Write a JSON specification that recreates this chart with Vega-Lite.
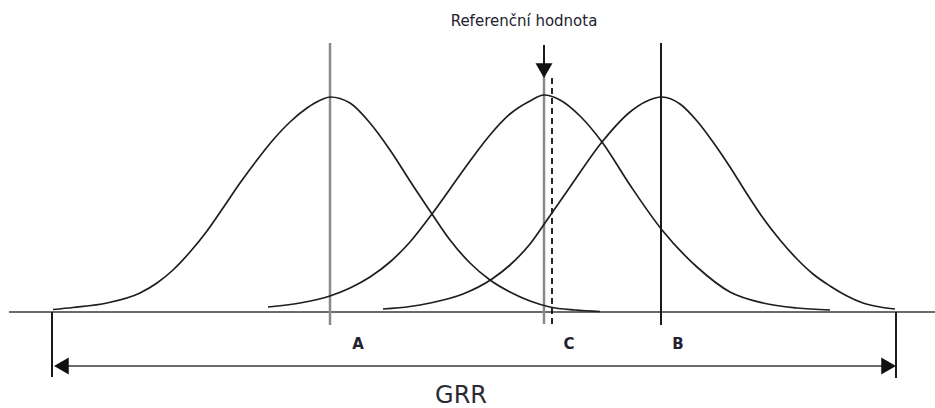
{
  "$schema": "https://vega.github.io/schema/vega-lite/v6.json",
  "width": 935,
  "height": 408,
  "autosize": {"type": "none"},
  "padding": 0,
  "background": "white",
  "config": {"view": {"stroke": null}},
  "datasets": {
    "curves": [
      {"curve": "A", "x": 53, "h": 2.5}, {"curve": "A", "x": 73, "h": 4.5}, {"curve": "A", "x": 107, "h": 9},
      {"curve": "A", "x": 140, "h": 19}, {"curve": "A", "x": 157, "h": 29}, {"curve": "A", "x": 173, "h": 42},
      {"curve": "A", "x": 190, "h": 60}, {"curve": "A", "x": 207, "h": 81}, {"curve": "A", "x": 223, "h": 104},
      {"curve": "A", "x": 240, "h": 129}, {"curve": "A", "x": 257, "h": 152}, {"curve": "A", "x": 273, "h": 172},
      {"curve": "A", "x": 290, "h": 190}, {"curve": "A", "x": 307, "h": 204}, {"curve": "A", "x": 323, "h": 213},
      {"curve": "A", "x": 330, "h": 215}, {"curve": "A", "x": 350, "h": 209}, {"curve": "A", "x": 370, "h": 189},
      {"curve": "A", "x": 390, "h": 162}, {"curve": "A", "x": 410, "h": 131}, {"curve": "A", "x": 432, "h": 98},
      {"curve": "A", "x": 450, "h": 72}, {"curve": "A", "x": 470, "h": 49}, {"curve": "A", "x": 490, "h": 32},
      {"curve": "A", "x": 510, "h": 20}, {"curve": "A", "x": 530, "h": 11}, {"curve": "A", "x": 550, "h": 5},
      {"curve": "A", "x": 575, "h": 2}, {"curve": "A", "x": 600, "h": 0.5},
      {"curve": "C", "x": 268, "h": 5}, {"curve": "C", "x": 300, "h": 9}, {"curve": "C", "x": 330, "h": 16},
      {"curve": "C", "x": 350, "h": 24}, {"curve": "C", "x": 370, "h": 35}, {"curve": "C", "x": 390, "h": 50},
      {"curve": "C", "x": 410, "h": 70}, {"curve": "C", "x": 432, "h": 98}, {"curve": "C", "x": 450, "h": 123},
      {"curve": "C", "x": 470, "h": 151}, {"curve": "C", "x": 490, "h": 177}, {"curve": "C", "x": 510, "h": 198},
      {"curve": "C", "x": 530, "h": 211}, {"curve": "C", "x": 544, "h": 217}, {"curve": "C", "x": 560, "h": 212},
      {"curve": "C", "x": 580, "h": 196}, {"curve": "C", "x": 602, "h": 170}, {"curve": "C", "x": 630, "h": 127},
      {"curve": "C", "x": 662, "h": 82}, {"curve": "C", "x": 697, "h": 45}, {"curve": "C", "x": 730, "h": 20},
      {"curve": "C", "x": 763, "h": 9}, {"curve": "C", "x": 797, "h": 4}, {"curve": "C", "x": 830, "h": 2},
      {"curve": "B", "x": 383, "h": 3}, {"curve": "B", "x": 410, "h": 5.5}, {"curve": "B", "x": 430, "h": 9},
      {"curve": "B", "x": 463, "h": 18}, {"curve": "B", "x": 492, "h": 33}, {"curve": "B", "x": 510, "h": 47},
      {"curve": "B", "x": 530, "h": 68}, {"curve": "B", "x": 547, "h": 92}, {"curve": "B", "x": 570, "h": 125},
      {"curve": "B", "x": 602, "h": 170}, {"curve": "B", "x": 630, "h": 200}, {"curve": "B", "x": 645, "h": 210},
      {"curve": "B", "x": 662, "h": 215}, {"curve": "B", "x": 680, "h": 208}, {"curve": "B", "x": 697, "h": 191},
      {"curve": "B", "x": 713, "h": 170}, {"curve": "B", "x": 730, "h": 145}, {"curve": "B", "x": 747, "h": 118},
      {"curve": "B", "x": 763, "h": 94}, {"curve": "B", "x": 780, "h": 72}, {"curve": "B", "x": 797, "h": 53},
      {"curve": "B", "x": 813, "h": 38}, {"curve": "B", "x": 830, "h": 26}, {"curve": "B", "x": 847, "h": 16},
      {"curve": "B", "x": 863, "h": 9}, {"curve": "B", "x": 880, "h": 5}, {"curve": "B", "x": 895, "h": 3}
    ],
    "verticals": [
      {"line": "A", "x": 330, "top": 269, "bottom": -13},
      {"line": "C", "x": 544, "top": 237, "bottom": -12},
      {"line": "B", "x": 661, "top": 269, "bottom": -13},
      {"line": "ref", "x": 552, "top": 234, "bottom": -14},
      {"line": "GRR-left", "x": 52, "top": 0, "bottom": -65},
      {"line": "GRR-right", "x": 896, "top": 0, "bottom": -66},
      {"line": "pointer", "x": 544, "top": 267, "bottom": 246}
    ],
    "horizontals": [
      {"line": "axis", "x1": 9, "x2": 935, "h": 0},
      {"line": "GRR", "x1": 58, "x2": 890, "h": -54}
    ],
    "heads": [
      {"dir": "left", "x": 61.4, "h": -54},
      {"dir": "right", "x": 888.6, "h": -54},
      {"dir": "down", "x": 544, "h": 241.4}
    ],
    "labels": [
      {"text": "Referenční hodnota", "x": 524, "h": 291},
      {"text": "A", "x": 358, "h": -32},
      {"text": "C", "x": 569, "h": -32},
      {"text": "B", "x": 678, "h": -32},
      {"text": "GRR", "x": 461, "h": -84}
    ]
  },
  "layer": [
    {
      "data": {"name": "horizontals"},
      "mark": {"type": "rule", "color": "#3a3a3a", "strokeWidth": 1.6},
      "encoding": {
        "x": {"field": "x1", "type": "quantitative", "scale": {"domain": [0, 935], "nice": false, "zero": false}, "axis": null},
        "x2": {"field": "x2"},
        "y": {"field": "h", "type": "quantitative", "scale": {"domain": [-96, 312], "nice": false, "zero": false}, "axis": null}
      }
    },
    {
      "data": {"name": "verticals"},
      "transform": [{"filter": "datum.line === 'A' || datum.line === 'C'"}],
      "mark": {"type": "rule", "color": "#8a8a8a", "strokeWidth": 2.5},
      "encoding": {
        "x": {"field": "x", "type": "quantitative", "scale": {"domain": [0, 935], "nice": false, "zero": false}, "axis": null},
        "y": {"field": "top", "type": "quantitative", "scale": {"domain": [-96, 312], "nice": false, "zero": false}, "axis": null},
        "y2": {"field": "bottom"}
      }
    },
    {
      "data": {"name": "verticals"},
      "transform": [{"filter": "datum.line === 'B' || datum.line === 'GRR-left' || datum.line === 'GRR-right' || datum.line === 'pointer'"}],
      "mark": {"type": "rule", "color": "#1a1a1a", "strokeWidth": 2},
      "encoding": {
        "x": {"field": "x", "type": "quantitative", "scale": {"domain": [0, 935], "nice": false, "zero": false}, "axis": null},
        "y": {"field": "top", "type": "quantitative", "scale": {"domain": [-96, 312], "nice": false, "zero": false}, "axis": null},
        "y2": {"field": "bottom"}
      }
    },
    {
      "data": {"name": "verticals"},
      "transform": [{"filter": "datum.line === 'ref'"}],
      "mark": {"type": "rule", "color": "#111111", "strokeWidth": 1.8, "strokeDash": [6, 4]},
      "encoding": {
        "x": {"field": "x", "type": "quantitative", "scale": {"domain": [0, 935], "nice": false, "zero": false}, "axis": null},
        "y": {"field": "top", "type": "quantitative", "scale": {"domain": [-96, 312], "nice": false, "zero": false}, "axis": null},
        "y2": {"field": "bottom"}
      }
    },
    {
      "data": {"name": "curves"},
      "mark": {"type": "line", "interpolate": "monotone", "color": "#1e1e1e", "strokeWidth": 1.7},
      "encoding": {
        "x": {"field": "x", "type": "quantitative", "scale": {"domain": [0, 935], "nice": false, "zero": false}, "axis": null},
        "y": {"field": "h", "type": "quantitative", "scale": {"domain": [-96, 312], "nice": false, "zero": false}, "axis": null},
        "detail": {"field": "curve"}
      }
    },
    {
      "data": {"name": "heads"},
      "mark": {"type": "point", "filled": true, "color": "#111111", "opacity": 1, "size": 289},
      "encoding": {
        "x": {"field": "x", "type": "quantitative", "scale": {"domain": [0, 935], "nice": false, "zero": false}, "axis": null},
        "y": {"field": "h", "type": "quantitative", "scale": {"domain": [-96, 312], "nice": false, "zero": false}, "axis": null},
        "shape": {"field": "dir", "type": "nominal", "scale": {"domain": ["left", "right", "down"], "range": ["triangle-left", "triangle-right", "triangle-down"]}, "legend": null}
      }
    },
    {
      "data": {"name": "labels"},
      "transform": [{"filter": "datum.text === 'Referenční hodnota'"}],
      "mark": {"type": "text", "font": "DejaVu Sans", "fontSize": 15, "color": "#222230", "align": "center", "baseline": "middle"},
      "encoding": {
        "x": {"field": "x", "type": "quantitative", "scale": {"domain": [0, 935], "nice": false, "zero": false}, "axis": null},
        "y": {"field": "h", "type": "quantitative", "scale": {"domain": [-96, 312], "nice": false, "zero": false}, "axis": null},
        "text": {"field": "text"}
      }
    },
    {
      "data": {"name": "labels"},
      "transform": [{"filter": "datum.text === 'A' || datum.text === 'B' || datum.text === 'C'"}],
      "mark": {"type": "text", "font": "DejaVu Sans", "fontSize": 15, "fontWeight": "bold", "color": "#222230", "align": "center", "baseline": "middle"},
      "encoding": {
        "x": {"field": "x", "type": "quantitative", "scale": {"domain": [0, 935], "nice": false, "zero": false}, "axis": null},
        "y": {"field": "h", "type": "quantitative", "scale": {"domain": [-96, 312], "nice": false, "zero": false}, "axis": null},
        "text": {"field": "text"}
      }
    },
    {
      "data": {"name": "labels"},
      "transform": [{"filter": "datum.text === 'GRR'"}],
      "mark": {"type": "text", "font": "DejaVu Sans", "fontSize": 24, "color": "#2a2a36", "align": "center", "baseline": "middle"},
      "encoding": {
        "x": {"field": "x", "type": "quantitative", "scale": {"domain": [0, 935], "nice": false, "zero": false}, "axis": null},
        "y": {"field": "h", "type": "quantitative", "scale": {"domain": [-96, 312], "nice": false, "zero": false}, "axis": null},
        "text": {"field": "text"}
      }
    }
  ]
}
